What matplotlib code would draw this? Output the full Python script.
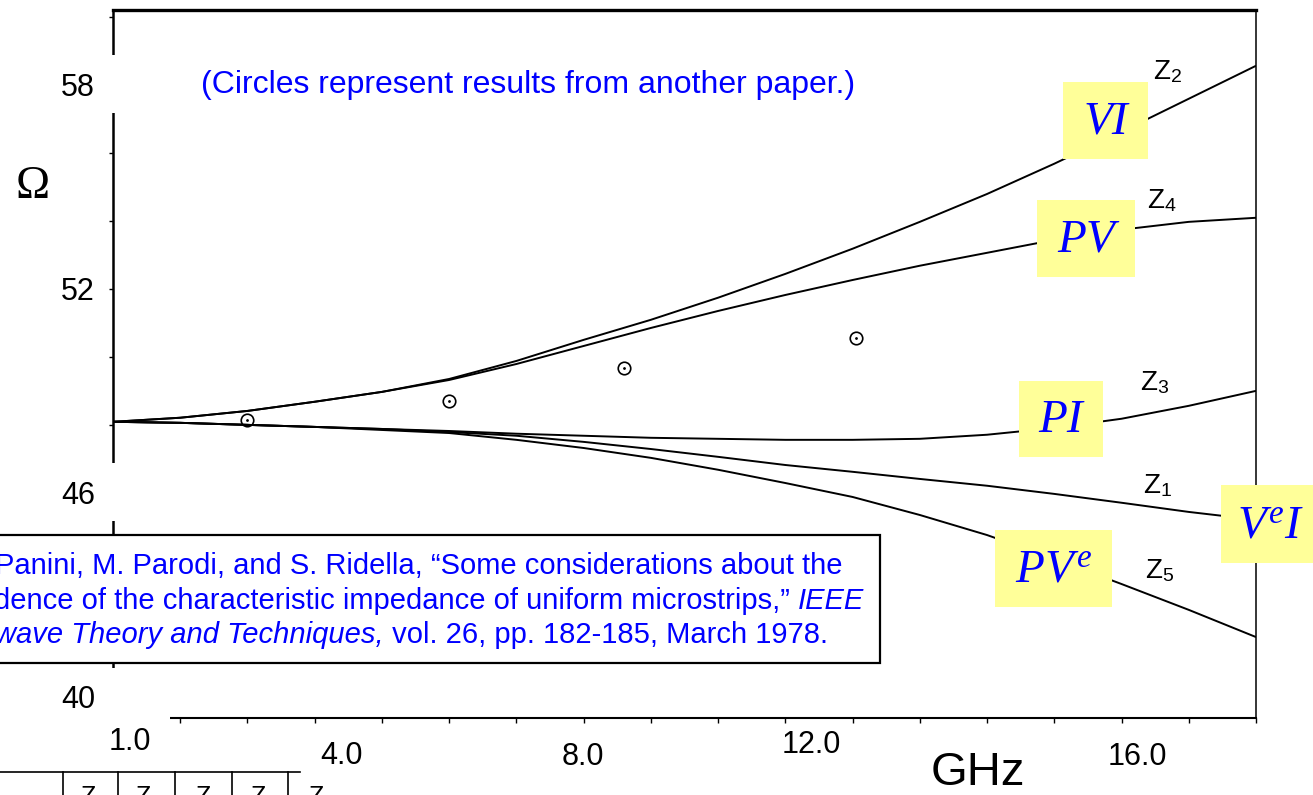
import matplotlib.pyplot as plt
from matplotlib.patches import Rectangle
from matplotlib.ticker import MultipleLocator
from matplotlib.lines import Line2D

plt.rcParams['font.family'] = ['Liberation Sans', 'DejaVu Sans']
plt.rcParams['mathtext.fontset'] = 'custom'
plt.rcParams['mathtext.rm'] = 'Liberation Sans'
plt.rcParams['mathtext.it'] = 'Liberation Serif:italic'

# frequency (GHz) and impedance curves (ohm)
freq = list(range(1, 19))
z1 = [48.09, 48.06, 48.00, 47.94, 47.88, 47.79, 47.68, 47.50, 47.29, 47.06, 46.82, 46.62, 46.41, 46.21, 45.97, 45.71, 45.44, 45.21]
z2 = [48.09, 48.21, 48.41, 48.68, 48.97, 49.35, 49.88, 50.50, 51.09, 51.74, 52.44, 53.18, 53.97, 54.79, 55.68, 56.62, 57.59, 58.56]
z3 = [48.09, 48.06, 48.00, 47.94, 47.88, 47.82, 47.74, 47.68, 47.62, 47.59, 47.56, 47.56, 47.59, 47.71, 47.91, 48.18, 48.56, 49.00]
z4 = [48.09, 48.21, 48.41, 48.68, 48.97, 49.32, 49.79, 50.32, 50.85, 51.35, 51.82, 52.26, 52.68, 53.06, 53.44, 53.74, 53.97, 54.09]
z5 = [48.09, 48.06, 48.00, 47.94, 47.85, 47.76, 47.56, 47.32, 47.03, 46.68, 46.29, 45.88, 45.35, 44.76, 44.06, 43.32, 42.56, 41.76]

# circles = results from the other paper
circle_f = [3.0, 6.0, 8.6, 12.05]
circle_z = [48.15, 48.71, 49.68, 50.56]

xtick_vals = [1, 4, 8, 12, 16]
xtick_text = ['1.0', '4.0', '8.0', '12.0', '16.0']
ytick_vals = [58, 52, 46, 40]

BLUE = '#0000FF'
YELLOW = '#FFFF99'
W, H = 1313, 795

def fx(px):
    return px / W

def fy(py):
    return 1 - py / H

fig = plt.figure(figsize=(W / 100, H / 100), dpi=100)
ax = fig.add_axes([fx(113), fy(718), (1256 - 113) / W, (718 - 10) / H])
ax.set_xlim(1, 18)
ax.set_ylim(39.38, 60.2)

for z in (z1, z2, z3, z4, z5):
    ax.plot(freq, z, color='black', lw=1.4, solid_capstyle='butt')
ax.plot(circle_f, circle_z, 'o', mfc='none', mec='black', ms=9, mew=1.2)
ax.plot(circle_f, circle_z, '.', color='black', ms=2)

ax.spines['top'].set_linewidth(2.4)
ax.spines['left'].set_linewidth(1.8)
ax.spines['bottom'].set_linewidth(1.5)
ax.spines['right'].set_linewidth(1.1)

# ticks
ax.set_xticks(xtick_vals)
ax.xaxis.set_minor_locator(MultipleLocator(1))
ax.tick_params(axis='x', which='both', direction='out', length=3.5, width=1.0, labelbottom=False)
ax.set_yticks(ytick_vals)
ax.yaxis.set_minor_locator(MultipleLocator(2))
ax.tick_params(axis='y', which='both', direction='out', length=3, width=1.0, pad=10, labelsize=22)

# x tick labels, placed loosely as in the slide (x nudge, label centre row in px)
x_place = [(17, 742), (27, 756), (-1, 757), (-41, 745), (16, 757)]
for v, lab, (dx, yc) in zip(xtick_vals, xtick_text, x_place):
    xp = 113 + (v - 1) * (1256 - 113) / 17 + dx
    fig.text(fx(xp), fy(yc), lab, fontsize=22, ha='center', va='center')

fig.text(fx(978), fy(773), 'GHz', fontsize=34, ha='center', va='center')
fig.text(fx(33), fy(187), 'Ω', fontsize=33, family='Liberation Serif', ha='center', va='center')

# white patches where the slide text covered the scanned axis
for (x0, y0, x1, y1) in [(100, 55, 124, 113), (100, 463, 124, 521), (100, 668, 170, 728)]:
    fig.patches.append(Rectangle((fx(x0), fy(y1)), fx(x1) - fx(x0), (y1 - y0) / H,
                                 transform=fig.transFigure, facecolor='white', edgecolor='none', zorder=2))

fig.text(fx(201), fy(93), '(Circles represent results from another paper.)', fontsize=23,
         color=BLUE, va='baseline', ha='left')

# citation box
fig.patches.append(Rectangle((fx(-5), fy(663)), fx(880) - fx(-5), (663 - 535) / H,
                             transform=fig.transFigure, facecolor='white', edgecolor='black',
                             lw=1.6, zorder=2))
renderer = fig.canvas.get_renderer()

def text_run(x_px, y_px, parts, size):
    x = x_px
    for s, style in parts:
        t = fig.text(fx(x), fy(y_px), s, fontsize=size, style=style, color=BLUE,
                     va='baseline', ha='left', zorder=4)
        x += t.get_window_extent(renderer=renderer).width

text_run(-5, 574, [('Panini, M. Parodi, and S. Ridella, \u201cSome considerations about the', 'normal')], 21)
text_run(-6, 609, [('dence of the characteristic impedance of uniform microstrips,\u201d ', 'normal'),
                   ('IEEE', 'italic')], 21)
text_run(-5, 643, [('wave Theory and Techniques,', 'italic'),
                   (' vol. 26, pp. 182-185, March 1978.', 'normal')], 21)

# yellow method labels
boxes = [
    ((1063, 82, 1148, 159), 'VI'),
    ((1037, 200, 1135, 277), 'PV'),
    ((1019, 381, 1103, 457), 'PI'),
    ((995, 530, 1112, 607), r'$PV^{e}$'),
    ((1221, 485, 1320, 563), r'$V^{e}I$'),
]
for (x0, y0, x1, y1), lab in boxes:
    fig.patches.append(Rectangle((fx(x0), fy(y1)), fx(x1) - fx(x0), (y1 - y0) / H,
                                 transform=fig.transFigure, facecolor=YELLOW, edgecolor='none', zorder=2))
    fig.text(fx((x0 + x1) / 2), fy((y0 + y1) / 2 + 2), lab, fontsize=34, color=BLUE,
             family='Liberation Serif', style='italic', ha='center', va='center', zorder=4)

# curve names from the scan
for (xp, yp), n in zip([(1168, 72), (1162, 201), (1155, 383), (1158, 486), (1160, 571)],
                       ['2', '4', '3', '1', '5']):
    fig.text(fx(xp), fy(yp), r'$\mathrm{Z}_{%s}$' % n, fontsize=20, ha='center', va='center')

# bottom edge of a table from the slide
fig.add_artist(Line2D([fx(0), fx(300)], [fy(772), fy(772)], color='black', lw=1.2))
for xp in [63, 118, 175, 232, 288]:
    fig.add_artist(Line2D([fx(xp), fx(xp)], [fy(772), fy(800)], color='black', lw=1.2))
for xp in [88, 143, 203, 258, 316]:
    fig.text(fx(xp), fy(785), 'Z', fontsize=18, ha='center', va='top')

fig.savefig('out.png', dpi=100)
